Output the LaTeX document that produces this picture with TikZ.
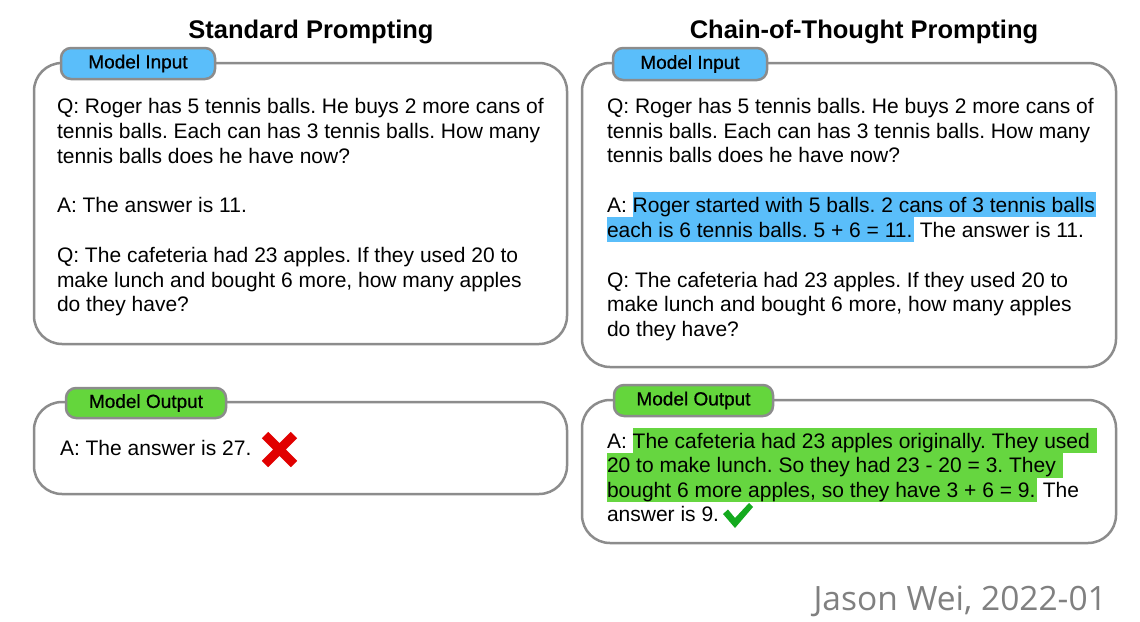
\documentclass[tikz,border=0pt]{standalone}
\usepackage{fontspec}
\setmainfont{Liberation Sans}
\newfontfamily\sigfont{Open Sans}
\newfontfamily\tagfam[FakeBold=0.6]{Liberation Sans}
\frenchspacing
\definecolor{frame}{RGB}{140,140,140}
\definecolor{tagblue}{RGB}{90,190,250}
\definecolor{taggreen}{RGB}{100,214,60}
\definecolor{hlblue}{RGB}{90,190,250}
\definecolor{hlgreen}{RGB}{102,214,64}
\definecolor{xred}{RGB}{225,0,0}
\definecolor{okgreen}{RGB}{20,170,30}
\definecolor{sig}{RGB}{128,128,128}
\newcommand\hlstrut{\rule[-5pt]{0pt}{25pt}}
\newcommand\hlb[1]{{\setlength\fboxsep{0pt}\colorbox{hlblue}{\hlstrut#1\kern1.5pt}}}
\newcommand\hlg[1]{{\setlength\fboxsep{0pt}\colorbox{hlgreen}{\hlstrut#1\kern1.5pt}}}
\newcommand\bodyfont{\fontsize{21}{25}\selectfont}
\newcommand\titlefont{\fontsize{25.5}{30}\selectfont\bfseries}
\newcommand\tagfont{\tagfam\fontsize{19}{22}\selectfont}
\newcommand\signfont{\sigfont\fontsize{33.5}{40}\selectfont}
\begin{document}
\begin{tikzpicture}[x=1pt,y=-1pt,
  box/.style={draw=frame, line width=2.5pt, rounded corners=28pt, fill=white, inner sep=0pt, outer sep=0pt},
  tag/.style={draw=frame, line width=2.5pt, rounded corners=10pt, inner sep=0pt, outer sep=0pt, font=\tagfont, text=black},
  txt/.style={anchor=base west, inner sep=0pt, outer sep=0pt, font=\bodyfont},
  title/.style={anchor=base, inner sep=0pt, outer sep=0pt, font=\titlefont}]
\fill[white] (0,0) rectangle (1140,621);
\useasboundingbox (0,0) rectangle (1140,621);
% titles
\node[title] (t1) at (311,38) {Standard Prompting};
\node[title] (t2) at (864,38) {Chain-of-Thought Prompting};
% boxes
\node[box, minimum width=533pt, minimum height=281pt] (lin) at (300.5,203.5) {};
\node[box, minimum width=534pt, minimum height=304pt] (rin) at (849,215) {};
\node[box, minimum width=533pt, minimum height=92pt] (lout) at (300.5,448) {};
\node[box, minimum width=534pt, minimum height=143pt] (rout) at (849,471.5) {};
% tags
\node[tag, fill=tagblue, minimum width=154pt, minimum height=31pt] (lint) at (138,63.5) {Model Input};
\node[tag, fill=tagblue, minimum width=154pt, minimum height=32pt] (rint) at (690,64) {Model Input};
\node[tag, fill=taggreen, minimum width=160pt, minimum height=30pt] (loutt) at (146,403) {Model Output};
\node[tag, fill=taggreen, minimum width=159pt, minimum height=31pt] (routt) at (693.5,400.5) {Model Output};
% left input text
\node[txt] (l1) at (57,113) {Q: Roger has 5 tennis balls. He buys 2 more cans of};
\node[txt] (l2) at (57,138) {tennis balls. Each can has 3 tennis balls. How many};
\node[txt] (l3) at (57,163) {tennis balls does he have now?};
\node[txt] (l4) at (57,212) {A: The answer is 11.};
\node[txt] (l5) at (57,262) {Q: The cafeteria had 23 apples. If they used 20 to};
\node[txt] (l6) at (57,287) {make lunch and bought 6 more, how many apples};
\node[txt] (l7) at (57,311) {do they have?};
% right input text
\node[txt] (r1) at (607,113) {Q: Roger has 5 tennis balls. He buys 2 more cans of};
\node[txt] (r2) at (607,138) {tennis balls. Each can has 3 tennis balls. How many};
\node[txt] (r3) at (607,162) {tennis balls does he have now?};
\node[txt] (r4) at (607,212) {A: \hlb{Roger started with 5 balls. 2 cans of 3 tennis balls}};
\node[txt] (r5) at (607,237) {\hlb{each is 6 tennis balls. 5 + 6 = 11.} The answer is 11.};
\node[txt] (r6) at (607,287) {Q: The cafeteria had 23 apples. If they used 20 to};
\node[txt] (r7) at (607,311) {make lunch and bought 6 more, how many apples};
\node[txt] (r8) at (607,336) {do they have?};
% left output
\node[txt] (lo1) at (60,455) {A: The answer is 27.};
\draw[xred, line width=9pt] (265,435) -- (294,464) (294,435) -- (265,464);
% right output
\node[txt] (ro1) at (607,448) {A: \hlg{The cafeteria had 23 apples originally. They used }};
\node[txt] (ro2) at (607,472.5) {\hlg{20 to make lunch. So they had 23 - 20 = 3. They }};
\node[txt] (ro3) at (607,497) {\hlg{bought 6 more apples, so they have 3 + 6 = 9.} The};
\node[txt] (ro4) at (607,521.5) {answer is 9.};
\fill[okgreen] (723,514) -- (728,509.5) -- (735,518) -- (749,503) -- (753,507) -- (735,528) -- cycle;
% signature
\node[anchor=base east, inner sep=0pt, font=\signfont, text=sig] (sign) at (1107,610) {Jason Wei, 2022-01};
\end{tikzpicture}
\end{document}
